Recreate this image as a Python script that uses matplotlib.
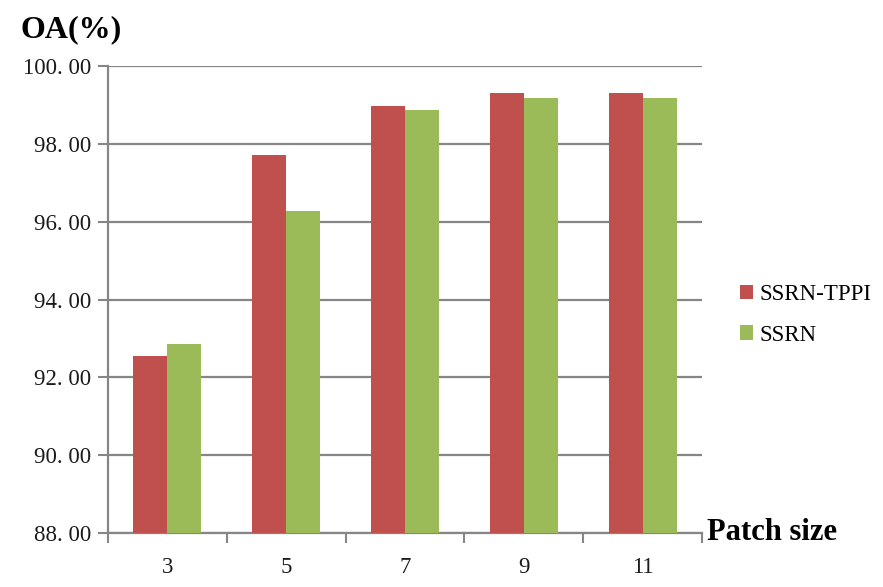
import matplotlib
matplotlib.use("Agg")
import matplotlib.pyplot as plt
import numpy as np
from matplotlib.ticker import FuncFormatter

categories = ["3", "5", "7", "9", "11"]
ssrn_tppi = [92.55, 97.72, 98.97, 99.31, 99.31]
ssrn = [92.85, 96.28, 98.86, 99.17, 99.19]
series_names = ["SSRN-TPPI", "SSRN"]
colors = ["#C0504D", "#9BBB59"]

fig = plt.figure(figsize=(8.83, 5.87), dpi=100)
ax = fig.add_axes([108/883, 1-533/587, (702-108)/883, (533-66)/587])

x = np.arange(len(categories))
w = 0.286
ax.bar(x - w/2, ssrn_tppi, width=w, color=colors[0], label=series_names[0], zorder=3)
ax.bar(x + w/2, ssrn, width=w, color=colors[1], label=series_names[1], zorder=3)

ax.set_ylim(88, 100)
ax.set_xlim(-0.5, len(categories) - 0.5)
ax.set_yticks(np.arange(88, 100.1, 2))
ax.yaxis.set_major_formatter(FuncFormatter(lambda v, p: "%d. %02d" % (int(v), 0)))
ax.grid(axis="y", color="#868686", linewidth=1.6, zorder=0)

# x ticks at category boundaries, labels centered
ax.set_xticks(np.arange(-0.5, len(categories), 1.0))
ax.set_xticklabels([])
ax.set_xticks(x, minor=True)
ax.set_xticklabels(categories, minor=True)
ax.tick_params(axis="x", which="minor", length=0, pad=17)
ax.tick_params(axis="x", which="major", length=7, width=1.5, color="#868686")
ax.tick_params(axis="y", length=7, width=1.5, color="#868686", pad=5)

for lab in ax.get_yticklabels() + ax.get_xticklabels(minor=True):
    lab.set_fontfamily("Liberation Serif")
    lab.set_fontsize(16.5)
    lab.set_color("#1a1a1a")

for s in ["top", "right"]:
    ax.spines[s].set_visible(False)
for s in ["left", "bottom"]:
    ax.spines[s].set_color("#868686")
    ax.spines[s].set_linewidth(1.6)

fig.text(20/883, 1-30/587, "OA(%)", fontfamily="Liberation Serif", fontweight="bold",
         fontsize=23, va="center", ha="left")
fig.text(707/883, 1-533/587, "Patch size", fontfamily="Liberation Serif", fontweight="bold",
         fontsize=22, va="center", ha="left")

leg = fig.legend(loc="center left", bbox_to_anchor=(719/883, 1-315/587), frameon=False,
                 prop={"family": "Liberation Serif", "size": 16.5},
                 handlelength=0.6, handleheight=0.6, handletextpad=0.25, labelspacing=0.85)

fig.savefig("out.png", dpi=100)
